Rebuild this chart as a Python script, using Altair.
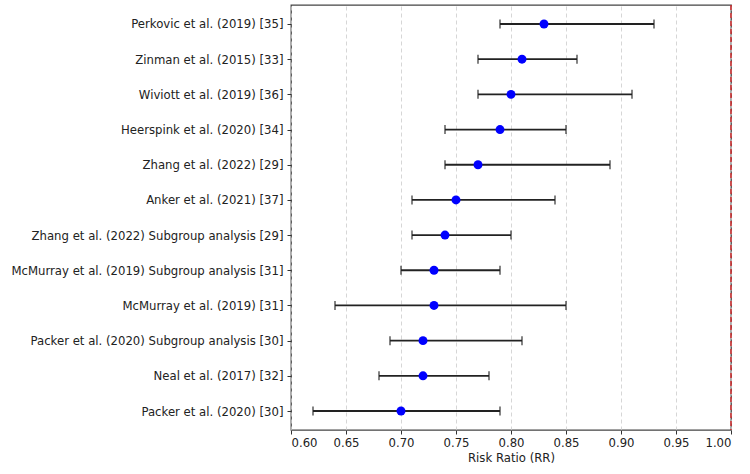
import altair as alt
import pandas as pd

# Studies listed top to bottom
studies = [
    "Perkovic et al. (2019) [35]",
    "Zinman et al. (2015) [33]",
    "Wiviott et al. (2019) [36]",
    "Heerspink et al. (2020) [34]",
    "Zhang et al. (2022) [29]",
    "Anker et al. (2021) [37]",
    "Zhang et al. (2022) Subgroup analysis [29]",
    "McMurray et al. (2019) Subgroup analysis [31]",
    "McMurray et al. (2019) [31]",
    "Packer et al. (2020) Subgroup analysis [30]",
    "Neal et al. (2017) [32]",
    "Packer et al. (2020) [30]",
]
rr = [0.83, 0.81, 0.80, 0.79, 0.77, 0.75, 0.74, 0.73, 0.73, 0.72, 0.72, 0.70]
ci_low = [0.79, 0.77, 0.77, 0.74, 0.74, 0.71, 0.71, 0.70, 0.64, 0.69, 0.68, 0.62]
ci_high = [0.93, 0.86, 0.91, 0.85, 0.89, 0.84, 0.80, 0.79, 0.85, 0.81, 0.78, 0.79]
x_ticks = [0.60, 0.65, 0.70, 0.75, 0.80, 0.85, 0.90, 0.95, 1.00]
null_value = [1.0]

df = pd.DataFrame({"study": studies, "rr": rr, "lo": ci_low, "hi": ci_high})

x_scale = alt.Scale(domain=[0.60, 1.00], nice=False, zero=False)
y_scale = alt.Scale(type="point", padding=0.54)

x_axis = alt.Axis(
    values=x_ticks, format=".2f", title="Risk Ratio (RR)",
    grid=True, gridDash=[4, 3], gridColor="#cccccc", gridWidth=0.8,
    tickSize=4, tickColor="#333333", labelPadding=3, titlePadding=4,
    domain=False,
)
y_axis = alt.Axis(
    title=None, grid=False, tickSize=4, tickColor="#333333",
    labelPadding=4, labelLimit=0, domain=False, minExtent=280, maxExtent=280,
)

base = alt.Chart(df)

whiskers = base.mark_rule(color="#222222", strokeWidth=1.8).encode(
    x=alt.X("lo:Q", scale=x_scale, axis=x_axis),
    x2="hi:Q",
    y=alt.Y("study:N", sort=studies, scale=y_scale, axis=y_axis),
)
cap_lo = base.mark_tick(color="#222222", thickness=1.6, size=9, orient="vertical").encode(
    x=alt.X("lo:Q", scale=x_scale),
    y=alt.Y("study:N", sort=studies, scale=y_scale),
)
cap_hi = base.mark_tick(color="#222222", thickness=1.6, size=9, orient="vertical").encode(
    x=alt.X("hi:Q", scale=x_scale),
    y=alt.Y("study:N", sort=studies, scale=y_scale),
)
points = base.mark_circle(color="#0000ff", opacity=1, size=80).encode(
    x=alt.X("rr:Q", scale=x_scale),
    y=alt.Y("study:N", sort=studies, scale=y_scale),
)
ref_line = alt.Chart(pd.DataFrame({"v": null_value})).mark_rule(
    color="#d62728", strokeDash=[5, 3], strokeWidth=1.4
).encode(x=alt.X("v:Q", scale=x_scale))

chart = (
    alt.layer(whiskers, cap_lo, cap_hi, points, ref_line)
    .properties(
        width=440, height=425,
        padding={"left": 10, "top": 4, "right": 10, "bottom": 5},
        background="white",
    )
    .configure_view(stroke="#444444", strokeWidth=1.3)
    .configure_axis(
        labelFont="DejaVu Sans", titleFont="DejaVu Sans",
        labelFontSize=11.7, titleFontSize=11.7, labelColor="#222222",
        titleColor="#222222", titleFontWeight="normal",
    )
)

chart.save("out.html", embed_options={"renderer": "svg", "actions": False})
